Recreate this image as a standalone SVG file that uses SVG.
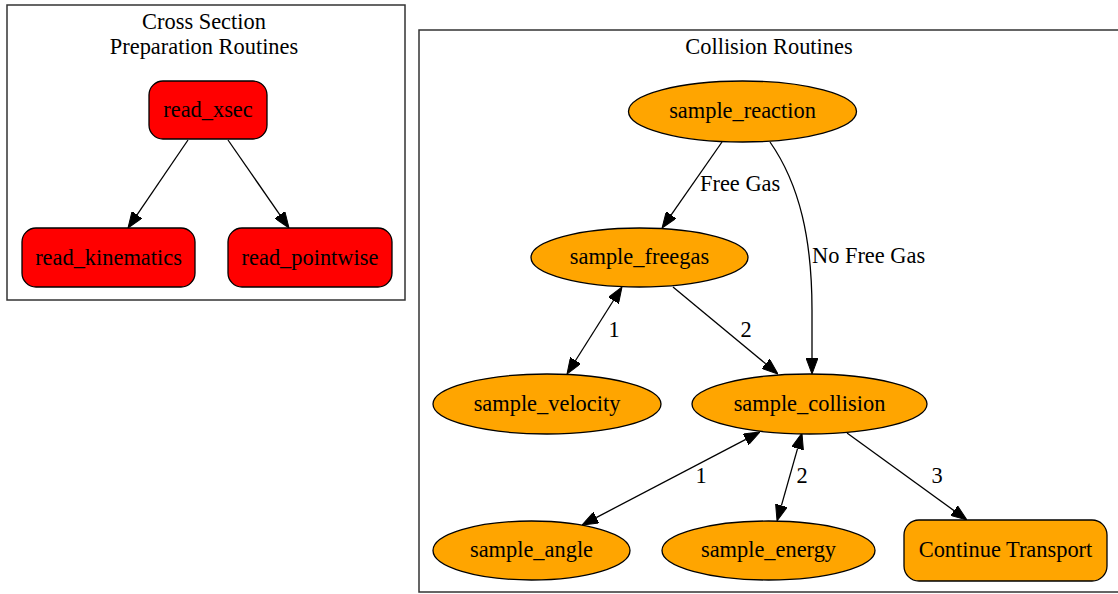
<svg xmlns="http://www.w3.org/2000/svg" width="1118" height="594" viewBox="0 0 1118 594">
<style>
text { font-family: "Liberation Serif", "Times New Roman", serif; font-size: 22.4px; fill: #000; }
.mid { text-anchor: middle; }
.cluster { fill: #fff; stroke: #333; stroke-width: 1.5; }
.red { fill: #ff0000; stroke: #000; stroke-width: 1.3; }
.orange { fill: #ffa500; stroke: #000; stroke-width: 1.3; }
.edge { fill: none; stroke: #000; stroke-width: 1.3; }
</style>
<defs>
<marker id="arrow" viewBox="0 0 16 12" refX="0" refY="6" markerWidth="16" markerHeight="12" markerUnits="userSpaceOnUse" orient="auto-start-reverse">
<path d="M0,0 L16,6 L0,12 z" fill="#000" stroke="#000" stroke-width="1"/>
</marker>
</defs>
<rect width="1118" height="594" fill="#fff"/>
<g id="cluster_xsec">
<rect class="cluster" x="7" y="5" width="398" height="295"/>
<text class="mid" x="204" y="29">Cross Section</text>
<text class="mid" x="204" y="54">Preparation Routines</text>
</g>
<g id="cluster_collision">
<rect class="cluster" x="419" y="30" width="700" height="562"/>
<text class="mid" x="769" y="54">Collision Routines</text>
</g>
<g id="edges">
<path class="edge" d="M188,140 L137,214.8" marker-end="url(#arrow)"/>
<path class="edge" d="M228,140 L279.9,214.85" marker-end="url(#arrow)"/>
<path class="edge" d="M722,142 L671.2,214.9" marker-end="url(#arrow)"/>
<text x="700" y="191">Free Gas</text>
<path class="edge" d="M770,142 C800,185 812,240 812,310 L812,358" marker-end="url(#arrow)"/>
<text x="812" y="263">No Free Gas</text>
<path class="edge" d="M613.45,300.5 L575.55,360.5" marker-start="url(#arrow)" marker-end="url(#arrow)"/>
<text class="mid" x="614" y="337">1</text>
<path class="edge" d="M673,287 L765.7,363.8" marker-end="url(#arrow)"/>
<text class="mid" x="746" y="337">2</text>
<path class="edge" d="M745.8,439.4 L596.2,517.6" marker-start="url(#arrow)" marker-end="url(#arrow)"/>
<text class="mid" x="701" y="483">1</text>
<path class="edge" d="M797.6,448.4 L781.4,505.6" marker-start="url(#arrow)" marker-end="url(#arrow)"/>
<text class="mid" x="802" y="483">2</text>
<path class="edge" d="M847,433 L954,510.6" marker-end="url(#arrow)"/>
<text class="mid" x="937" y="483">3</text>
</g>
<g id="read_xsec">
<rect class="red" x="149" y="81" width="118" height="58" rx="14"/>
<text class="mid" x="208" y="117">read_xsec</text>
</g>
<g id="read_kinematics">
<rect class="red" x="22" y="228" width="173" height="59" rx="14"/>
<text class="mid" x="108.5" y="264.5">read_kinematics</text>
</g>
<g id="read_pointwise">
<rect class="red" x="228" y="228" width="164" height="59" rx="14"/>
<text class="mid" x="310" y="264.5">read_pointwise</text>
</g>
<g id="sample_reaction">
<ellipse class="orange" cx="742.5" cy="111.5" rx="114" ry="30.5"/>
<text class="mid" x="742.5" y="118">sample_reaction</text>
</g>
<g id="sample_freegas">
<ellipse class="orange" cx="639.5" cy="257.5" rx="108.5" ry="29.5"/>
<text class="mid" x="639.5" y="264">sample_freegas</text>
</g>
<g id="sample_velocity">
<ellipse class="orange" cx="547" cy="404" rx="114" ry="30"/>
<text class="mid" x="547" y="410.5">sample_velocity</text>
</g>
<g id="sample_collision">
<ellipse class="orange" cx="809.5" cy="404" rx="117.5" ry="30"/>
<text class="mid" x="809.5" y="410.5">sample_collision</text>
</g>
<g id="sample_angle">
<ellipse class="orange" cx="531.5" cy="550.5" rx="98.5" ry="29.5"/>
<text class="mid" x="531.5" y="557">sample_angle</text>
</g>
<g id="sample_energy">
<ellipse class="orange" cx="768.5" cy="550.5" rx="106.5" ry="29.5"/>
<text class="mid" x="768.5" y="557">sample_energy</text>
</g>
<g id="continue_transport">
<rect class="orange" x="904" y="520" width="203" height="61" rx="15"/>
<text class="mid" x="1005.5" y="557">Continue Transport</text>
</g>
</svg>
